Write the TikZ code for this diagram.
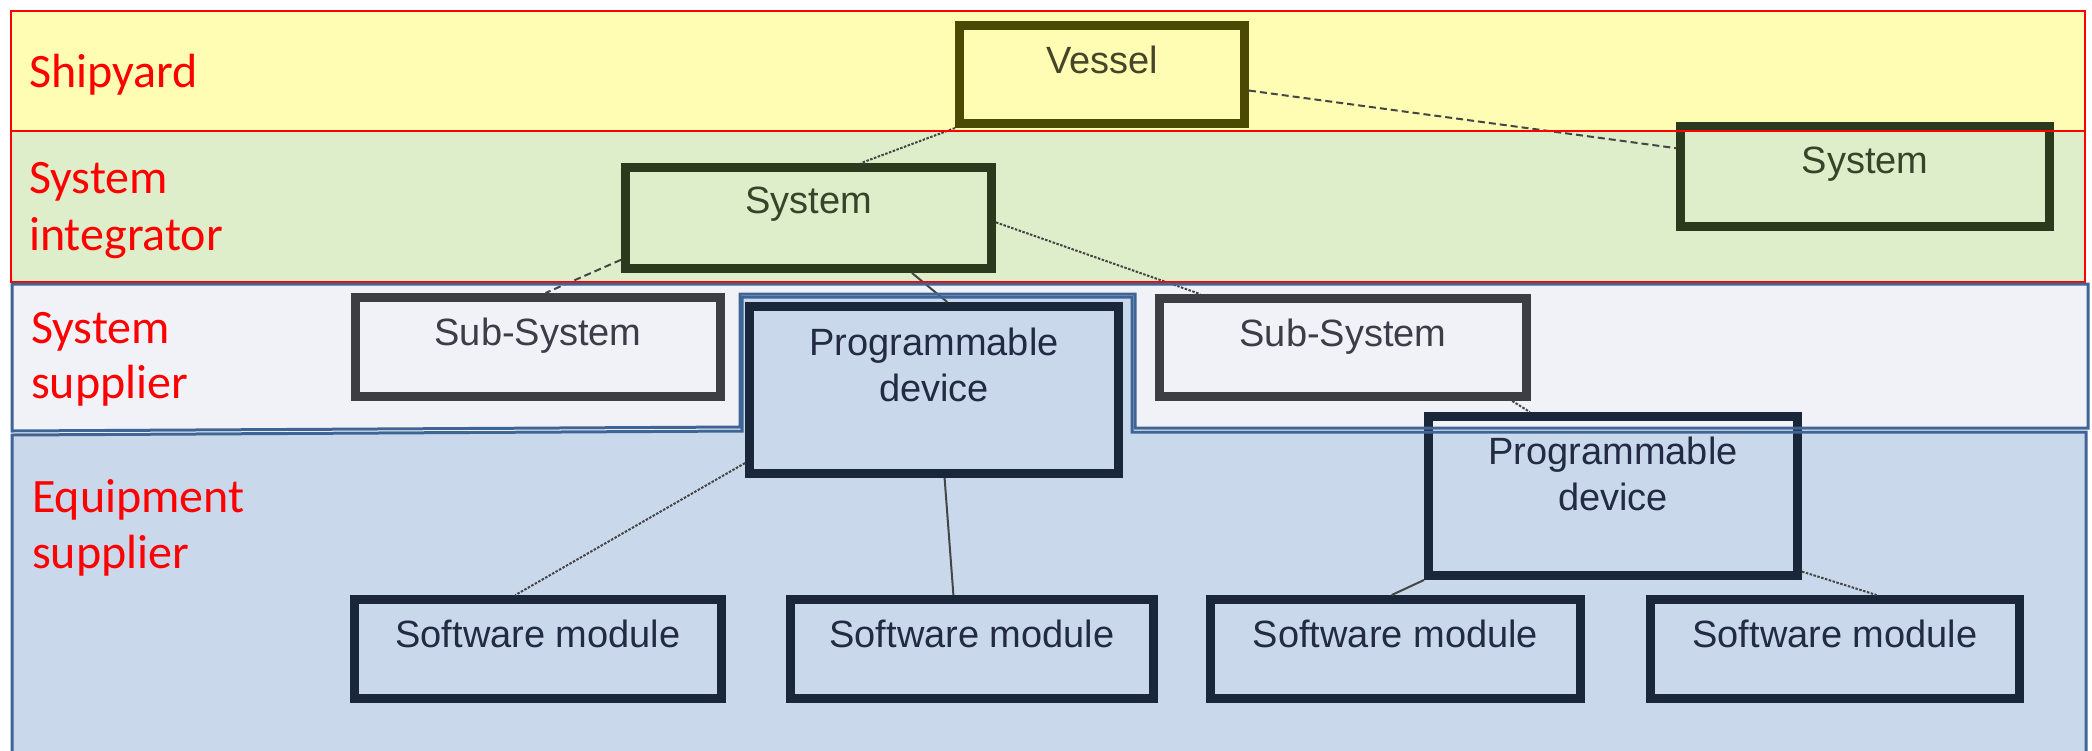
\documentclass[tikz,border=0pt]{standalone}
\usepackage{fontspec}
\setmainfont{Liberation Sans}
\newfontfamily\calfont{Carlito}
\usetikzlibrary{calc}
\definecolor{yband}{HTML}{FFFDB3}
\definecolor{gband}{HTML}{DEEECA}
\definecolor{sband}{HTML}{F0F2F8}
\definecolor{eband}{HTML}{C9D9EB}
\definecolor{bandblue}{HTML}{3F6597}
\definecolor{vesselc}{HTML}{4A4A05}
\definecolor{systemc}{HTML}{2B3A1C}
\definecolor{subc}{HTML}{3D3E43}
\definecolor{progc}{HTML}{1A263A}
\definecolor{vesselt}{HTML}{45452A}
\definecolor{systemt}{HTML}{35452A}
\definecolor{subt}{HTML}{3B3D48}
\definecolor{progt}{HTML}{222A44}
\definecolor{linec}{HTML}{454545}
\begin{document}
\begin{tikzpicture}[x=1pt,y=-1pt,
  box/.style={draw=#1, rectangle, line width=9pt, inner sep=0pt, outer sep=4.5pt},
  btext/.style={anchor=base, inner sep=0pt, font=\fontsize{38}{46}\selectfont},
  lane/.style={anchor=base west, inner sep=0pt, text=red, font=\calfont\fontsize{48}{58}\selectfont},
  conn/.style={draw=linec, line width=2pt},
  dotconn/.style={conn, dash pattern=on 2.5pt off 1.5pt},
  dashconn/.style={conn, dash pattern=on 7pt off 4pt}]
\useasboundingbox (0,0) rectangle (2092,750);
\fill[white] (0,0) rectangle (2092,750);
% band fills
\fill[yband] (11,11) rectangle (2085,131);
\fill[gband] (11,131) rectangle (2085,282);
\fill[sband] (12,284) -- (2088,284) -- (2088,428) -- (1135,428) -- (1135,294) -- (740,294) -- (740,427) -- (12,431) -- cycle;
\fill[eband] (12,435) -- (742,431) -- (742,297) -- (1132,297) -- (1132,432) -- (2086,432) -- (2086,752) -- (12,752) -- cycle;
% boxes
\node[box=vesselc, minimum width=285pt, minimum height=98pt] (vessel) at (1102,74.5) {};
\node[box=systemc, minimum width=366pt, minimum height=101pt] (sysL) at (808.5,218) {};
\node[box=systemc, minimum width=369pt, minimum height=100pt] (sysR) at (1865,176.5) {};
\node[box=subc, minimum width=365pt, minimum height=99pt] (subL) at (538,347) {};
\node[box=subc, minimum width=367pt, minimum height=98pt] (subR) at (1343,347.5) {};
\node[box=progc, minimum width=369pt, minimum height=167pt] (progL) at (934,390) {};
\node[box=progc, minimum width=369pt, minimum height=159pt] (progR) at (1613,496) {};
\node[box=progc, minimum width=367pt, minimum height=99pt] (swA) at (538,649) {};
\node[box=progc, minimum width=363pt, minimum height=99pt] (swB) at (972,649) {};
\node[box=progc, minimum width=370pt, minimum height=99pt] (swC) at (1395.5,649) {};
\node[box=progc, minimum width=369pt, minimum height=99pt] (swD) at (1835,649) {};
% connectors
\draw[dotconn] (vessel.south west) -- ($(sysL.north west)!0.64!(sysL.north east)$);
\draw[dashconn] ($(vessel.north east)!0.65!(vessel.south east)$) -- ($(sysR.north west)!0.24!(sysR.south west)$);
\draw[dashconn] ($(sysL.north west)!0.88!(sysL.south west)$) -- ($(subL.north west)!0.52!(subL.north east)$);
\draw[conn] ($(sysL.south west)!0.776!(sysL.south east)$) -- ($(progL.north west)!0.535!(progL.north east)$);
\draw[dotconn] ($(sysL.north east)!0.54!(sysL.south east)$) -- ($(subR.north west)!0.12!(subR.north east)$);
\draw[dotconn] ($(subR.south west)!0.95!(subR.south east)$) -- ($(progR.north west)!0.28!(progR.north east)$);
\draw[dotconn] ($(progL.north west)!0.915!(progL.south west)$) -- ($(swA.north west)!0.44!(swA.north east)$);
\draw[conn] ($(progL.south west)!0.528!(progL.south east)$) -- ($(swB.north west)!0.45!(swB.north east)$);
\draw[conn] (progR.south west) -- ($(swC.north west)!0.49!(swC.north east)$);
\draw[dotconn] ($(progR.north east)!0.95!(progR.south east)$) -- ($(swD.north west)!0.61!(swD.north east)$);
% band borders
\draw[red, line width=2.5pt] (11,11) rectangle (2085,131);
\draw[red, line width=2.5pt] (11,131) rectangle (2085,282);
\draw[bandblue, line width=3pt] (12,284) -- (2088,284) -- (2088,428) -- (1135,428) -- (1135,294) -- (740,294) -- (740,427) -- (12,431) -- cycle;
\draw[bandblue, line width=3pt] (12,760) -- (12,435) -- (742,431) -- (742,297) -- (1132,297) -- (1132,432) -- (2086,432) -- (2086,760);
% box texts
\node[btext, text=vesselt] (vesselT) at (1102,73) {Vessel};
\node[btext, text=systemt] (sysLT) at (808.5,213) {System};
\node[btext, text=systemt] (sysRT) at (1865,173) {System};
\node[btext, text=subt] (subLT) at (538,345) {Sub-System};
\node[btext, text=subt] (subRT) at (1343,346) {Sub-System};
\node[btext, text=progt] (progLT1) at (934,355) {Programmable};
\node[btext, text=progt] (progLT2) at (934,401) {device};
\node[btext, text=progt] (progRT1) at (1613,464) {Programmable};
\node[btext, text=progt] (progRT2) at (1613,510) {device};
\node[btext, text=progt] (swAT) at (538,647) {Software module};
\node[btext, text=progt] (swBT) at (972,647) {Software module};
\node[btext, text=progt] (swCT) at (1395.5,647) {Software module};
\node[btext, text=progt] (swDT) at (1835,647) {Software module};
% lane labels
\node[lane] (l1) at (29,87) {Shipyard};
\node[lane] (l2a) at (29,193) {System};
\node[lane] (l2b) at (29,250) {integrator};
\node[lane] (l3a) at (31,343) {System};
\node[lane] (l3b) at (31,398) {supplier};
\node[lane] (l4a) at (32,512) {Equipment};
\node[lane] (l4b) at (32,568) {supplier};
\end{tikzpicture}
\end{document}
